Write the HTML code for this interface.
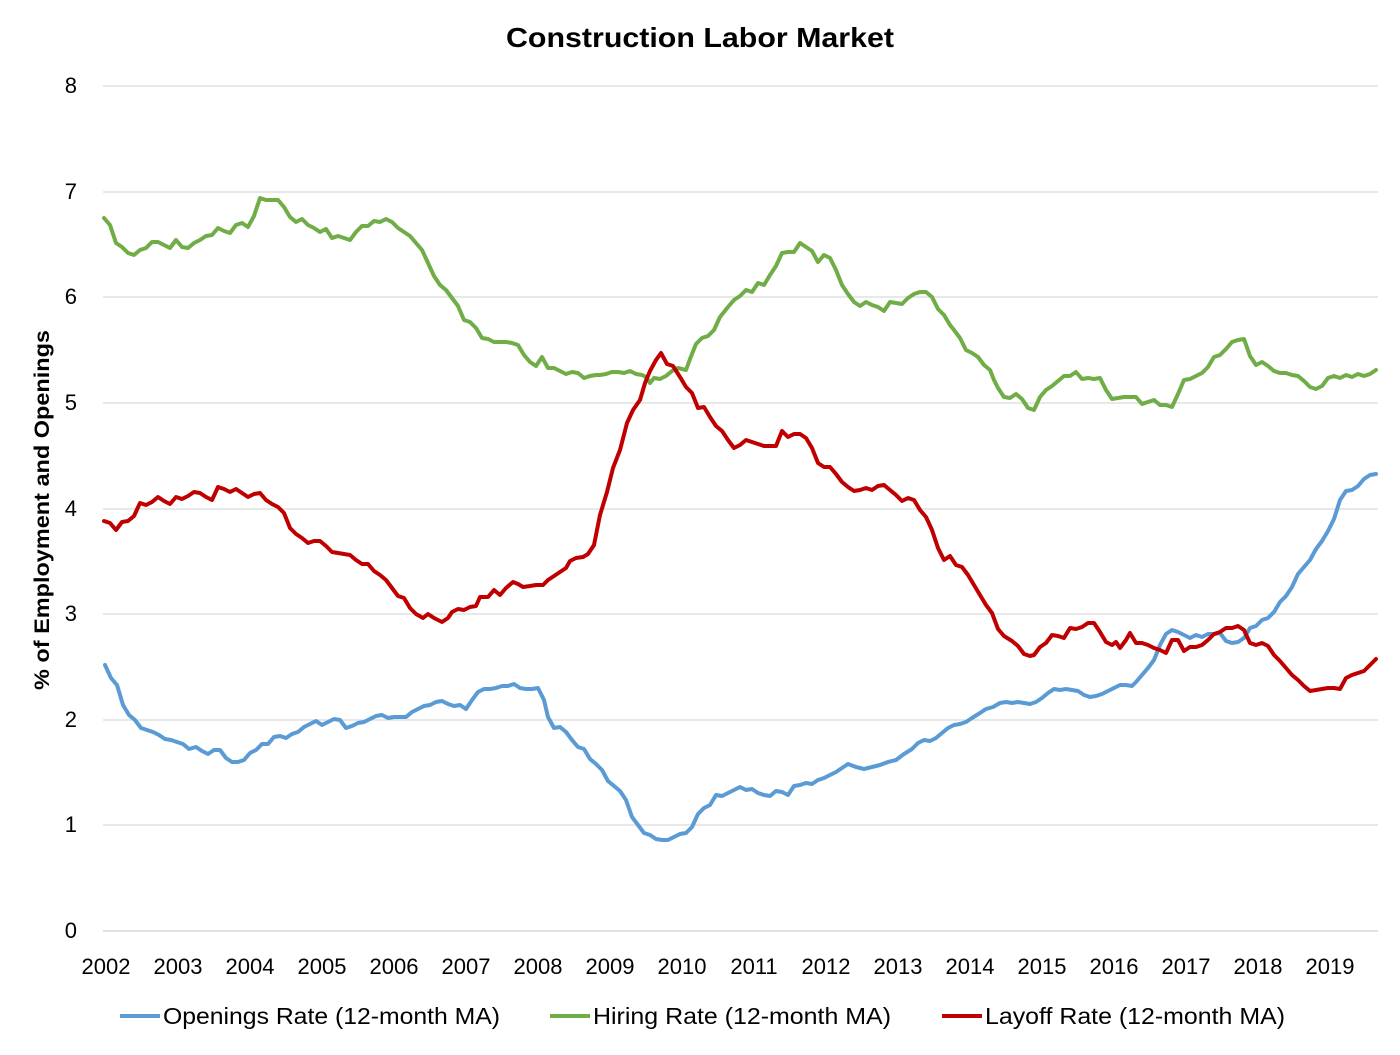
<!DOCTYPE html>
<html><head><meta charset="utf-8"><style>
html,body{margin:0;padding:0;background:#fff;}
svg text{font-family:"Liberation Sans",sans-serif;fill:#000;}
</style></head><body>
<svg width="1400" height="1050" viewBox="0 0 1400 1050" xmlns="http://www.w3.org/2000/svg">
<rect width="1400" height="1050" fill="#fff"/>
<text x="506" y="47" font-size="28" font-weight="bold" textLength="388" lengthAdjust="spacingAndGlyphs">Construction Labor Market</text>
<g stroke="#d9d9d9" stroke-width="1.3">
<line x1="103" y1="86" x2="1378" y2="86"/><line x1="103" y1="192" x2="1378" y2="192"/>
<line x1="103" y1="297" x2="1378" y2="297"/><line x1="103" y1="403" x2="1378" y2="403"/>
<line x1="103" y1="509" x2="1378" y2="509"/><line x1="103" y1="614" x2="1378" y2="614"/>
<line x1="103" y1="720" x2="1378" y2="720"/><line x1="103" y1="825" x2="1378" y2="825"/>
</g>
<line x1="103" y1="931" x2="1378" y2="931" stroke="#d9d9d9" stroke-width="1.5"/>
<g font-size="22" text-anchor="end">
<text x="77" y="93">8</text><text x="77" y="199">7</text><text x="77" y="304">6</text><text x="77" y="410">5</text>
<text x="77" y="516">4</text><text x="77" y="621">3</text><text x="77" y="727">2</text><text x="77" y="832">1</text><text x="77" y="938">0</text>
</g>
<g font-size="22" text-anchor="middle">
<text x="106" y="974">2002</text><text x="178" y="974">2003</text><text x="250" y="974">2004</text><text x="322" y="974">2005</text>
<text x="394" y="974">2006</text><text x="466" y="974">2007</text><text x="538" y="974">2008</text><text x="610" y="974">2009</text>
<text x="682" y="974">2010</text><text x="754" y="974">2011</text><text x="826" y="974">2012</text><text x="898" y="974">2013</text>
<text x="970" y="974">2014</text><text x="1042" y="974">2015</text><text x="1114" y="974">2016</text><text x="1186" y="974">2017</text>
<text x="1258" y="974">2018</text><text x="1330" y="974">2019</text>
</g>
<text transform="translate(49,690) rotate(-90)" font-size="21" font-weight="bold" textLength="360" lengthAdjust="spacingAndGlyphs">% of Employment and Openings</text>
<g fill="none" stroke-width="4" stroke-linejoin="round" stroke-linecap="round">
<polyline stroke="#5b9bd5" points="105,665 111,678 117,685 123,705 129,715 135,720 141,728 147,730 153,732 159,735 165,739 171,740 177,742 183,744 189,749 196,747 202,751 208,754 214,750 220,750 226,758 232,762 238,762 244,760 250,753 256,750 262,744 268,744 274,737 280,736 286,738 292,734 298,732 304,727 310,724 316,721 322,725 328,722 334,719 340,720 346,728 352,726 358,723 364,722 370,719 376,716 382,715 388,718 394,717 400,717 406,717 412,712 418,709 424,706 430,705 436,702 442,701 448,704 454,706 460,705 466,709 472,700 478,692 484,689 490,689 496,688 502,686 508,686 514,684 520,688 526,689 532,689 538,688 544,700 548,717 554,728 560,727 566,732 572,740 578,747 584,749 590,759 596,764 602,770 608,781 614,786 620,791 626,800 632,817 638,825 644,833 650,835 656,839 662,840 668,840 674,837 680,834 686,833 692,827 698,814 704,808 710,805 716,795 722,796 728,793 734,790 740,787 746,790 752,789 758,793 764,795 770,796 776,791 782,792 788,795 794,786 800,785 806,783 812,784 818,780 824,778 830,775 836,772 842,768 848,764 856,767 864,769 872,767 880,765 888,762 896,760 904,754 912,749 918,743 924,740 930,741 936,738 942,733 948,728 954,725 960,724 966,722 972,718 980,713 986,709 993,707 1000,703 1006,702 1012,703 1018,702 1024,703 1030,704 1036,702 1042,698 1048,693 1054,689 1060,690 1066,689 1072,690 1078,691 1084,695 1090,697 1096,696 1102,694 1108,691 1114,688 1120,685 1126,685 1132,686 1136,682 1142,675 1148,668 1154,660 1160,645 1166,634 1172,630 1178,632 1184,635 1190,638 1196,635 1202,637 1208,634 1214,634 1220,633 1226,641 1232,643 1238,642 1244,638 1250,628 1256,626 1262,620 1268,618 1274,612 1280,602 1286,596 1292,587 1298,574 1304,567 1310,560 1316,549 1322,541 1328,531 1334,519 1340,500 1346,491 1352,490 1358,486 1364,479 1370,475 1376,474"/>
<polyline stroke="#70ad47" points="104,218 110,225 116,243 122,247 128,253 134,255 140,250 146,248 152,242 158,242 164,245 170,248 176,240 182,247 188,248 194,243 200,240 206,236 212,235 218,228 224,231 230,233 236,225 242,223 248,227 254,216 260,198 266,200 272,200 278,200 284,207 290,217 296,222 302,219 308,225 314,228 320,232 326,229 332,238 338,236 344,238 350,240 356,232 362,226 368,226 374,221 380,222 386,219 392,222 398,228 404,232 410,236 416,243 422,250 428,263 434,276 440,285 446,290 452,298 458,306 464,320 470,322 476,328 482,338 488,339 494,342 500,342 506,342 512,343 518,345 524,355 530,362 536,366 542,357 548,368 554,368 560,371 566,374 572,372 578,373 584,378 590,376 596,375 600,375 606,374 612,372 618,372 624,373 630,371 636,374 642,375 646,377 650,383 654,378 660,379 666,376 672,371 678,368 686,370 690,359 696,344 702,338 708,336 714,330 720,317 728,307 734,300 740,296 746,290 752,292 758,283 764,285 770,275 776,266 782,253 788,252 794,252 800,243 806,247 812,251 818,262 824,255 830,258 836,270 842,285 848,294 854,302 860,306 866,302 872,305 878,307 884,311 890,302 896,303 902,304 908,298 914,294 920,292 926,292 932,297 938,309 944,315 950,325 954,330 960,338 966,350 972,353 978,357 984,365 990,370 994,380 998,388 1004,397 1010,398 1016,394 1022,399 1028,408 1034,410 1040,397 1046,390 1052,386 1058,381 1064,376 1070,376 1076,372 1082,379 1088,378 1094,379 1100,378 1106,390 1112,399 1118,398 1124,397 1130,397 1136,397 1142,404 1148,402 1154,400 1160,405 1166,405 1172,407 1178,394 1184,380 1190,379 1196,376 1202,373 1208,367 1214,357 1220,355 1226,349 1232,342 1238,340 1244,339 1250,356 1256,365 1262,362 1268,366 1274,371 1280,373 1286,373 1292,375 1298,376 1304,381 1310,387 1316,389 1322,386 1328,378 1334,376 1340,378 1346,375 1352,377 1358,374 1364,376 1370,374 1376,370"/>
<polyline stroke="#c00000" points="104,521 110,523 116,530 122,522 128,521 134,516 140,503 146,505 152,502 158,497 164,501 170,504 176,497 182,499 188,496 194,492 200,493 206,497 212,500 218,487 224,489 230,492 236,489 242,493 248,497 254,494 260,493 266,500 272,504 278,507 284,513 290,528 296,534 302,538 308,543 314,541 320,541 326,546 332,552 338,553 344,554 350,555 356,560 362,564 368,564 374,571 380,575 386,580 392,588 398,596 404,598 410,608 416,614 423,618 428,614 434,618 442,622 448,618 452,612 458,609 464,610 470,607 476,606 480,597 488,597 494,590 500,595 506,588 513,582 518,584 523,587 530,586 536,585 543,585 548,580 554,576 560,572 566,568 570,561 576,558 583,557 588,554 594,545 600,515 607,492 613,468 620,450 627,423 633,410 640,400 645,383 650,371 656,360 661,353 667,364 673,366 680,377 686,387 692,393 698,408 704,407 710,417 716,426 722,431 728,440 734,448 740,445 746,440 752,442 758,444 764,446 770,446 776,446 782,431 788,437 794,434 800,434 806,438 812,448 818,463 824,467 830,467 836,474 842,482 848,487 854,491 860,490 866,488 872,490 878,486 884,485 890,490 896,495 902,501 908,498 914,500 920,510 926,517 932,530 938,548 944,560 950,556 956,565 962,567 968,575 974,585 980,595 986,605 992,613 998,629 1004,636 1012,641 1018,646 1024,654 1030,656 1034,655 1040,647 1046,643 1052,635 1058,636 1064,638 1070,628 1076,629 1082,627 1088,623 1094,623 1100,632 1106,642 1112,645 1116,642 1120,648 1126,640 1130,633 1136,643 1142,643 1148,645 1154,648 1160,650 1166,653 1172,640 1178,640 1184,651 1190,647 1196,647 1202,645 1208,640 1214,634 1220,632 1226,628 1232,628 1238,626 1244,630 1250,643 1256,645 1262,643 1268,646 1274,655 1280,661 1286,668 1292,675 1298,680 1304,686 1310,691 1316,690 1322,689 1328,688 1334,688 1340,689 1346,678 1352,675 1358,673 1364,671 1370,665 1376,659"/>
</g>
<g stroke-width="4">
<line x1="120" y1="1016" x2="160" y2="1016" stroke="#5b9bd5"/>
<line x1="550" y1="1016" x2="590" y2="1016" stroke="#70ad47"/>
<line x1="942" y1="1016" x2="982" y2="1016" stroke="#c00000"/>
</g>
<g font-size="23">
<text x="163" y="1024" textLength="337" lengthAdjust="spacingAndGlyphs">Openings Rate (12-month MA)</text>
<text x="593" y="1024" textLength="298" lengthAdjust="spacingAndGlyphs">Hiring Rate (12-month MA)</text>
<text x="985" y="1024" textLength="300" lengthAdjust="spacingAndGlyphs">Layoff Rate (12-month MA)</text>
</g>
</svg>
</body></html>
